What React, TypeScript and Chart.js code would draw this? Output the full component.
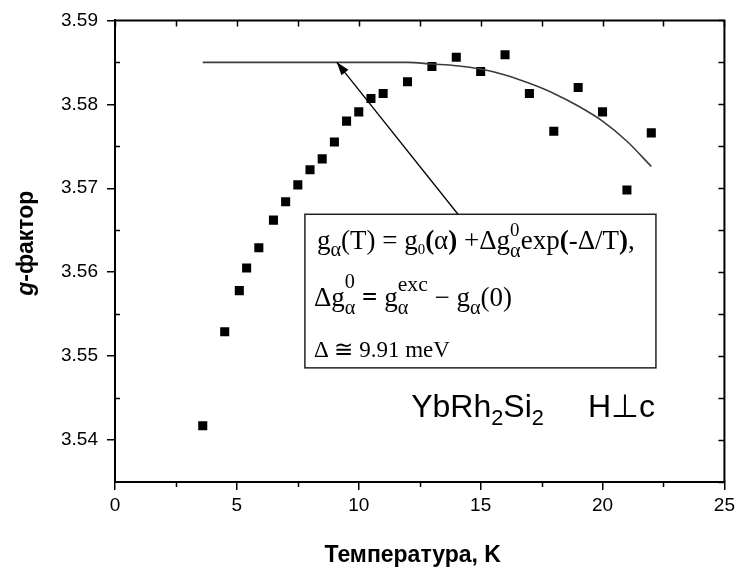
import React, { useEffect, useRef } from "react";
import { Chart, registerables } from "chart.js";

Chart.register(...registerables);

// Measured data: temperature (K) and g-factor
const temperature = [3.6, 4.5, 5.1, 5.4, 5.9, 6.5, 7.0, 7.5, 8.0, 8.5, 9.0, 9.5, 10.0, 10.5, 11.0, 12.0, 13.0, 14.0, 15.0, 16.0, 17.0, 18.0, 19.0, 20.0, 21.0, 22.0];
const gFactor = [3.5417, 3.5529, 3.5578, 3.5605, 3.5629, 3.5662, 3.5684, 3.5704, 3.5722, 3.5735, 3.5755, 3.5780, 3.5791, 3.5807, 3.5813, 3.5827, 3.5845, 3.5856, 3.5839, 3.5859, 3.5813, 3.5768, 3.5820, 3.5791, 3.5698, 3.5766];

// Fit curve
const fitT = [3.6, 8, 10, 12, 13, 14, 15, 16, 17, 18, 19, 20, 21, 22];
const fitG = [3.585, 3.585, 3.585, 3.585, 3.5848, 3.5846, 3.5842, 3.5835, 3.5825, 3.5813, 3.5798, 3.578, 3.5756, 3.5726];

// Axis settings
const xTicks = [0, 5, 10, 15, 20, 25];
const yTicks = [3.54, 3.55, 3.56, 3.57, 3.58, 3.59];
const xTitle = "Температура, K";
const yTitleItalic = "g";
const yTitleRest = "-фактор";

const SANS = '"Liberation Sans", Arial, sans-serif';
const SERIF = '"Liberation Serif", "Times New Roman", serif';

type Seg = { t: string; dy?: number; s?: number; b?: boolean; i?: boolean; stack?: boolean };

function drawRich(ctx: CanvasRenderingContext2D, x: number, y: number, segs: Seg[], size: number, family: string, measureOnly = false) {
  let cx = x;
  let stackW = 0;
  for (const sg of segs) {
    const fs = size * (sg.s ?? 1);
    ctx.font = `${sg.i ? "italic " : ""}${sg.b ? "bold " : ""}${fs}px ${family}`;
    if (!measureOnly) ctx.fillText(sg.t, cx, y + (sg.dy ?? 0));
    const w = ctx.measureText(sg.t).width;
    if (sg.stack) {
      stackW = Math.max(stackW, w);
    } else {
      cx += Math.max(w, stackW);
      stackW = 0;
    }
  }
  return cx;
}

const framePlugin = {
  id: "frame",
  afterDraw(chart: any) {
    const { ctx, chartArea: a, scales } = chart;
    const xs = scales.x;
    const ys = scales.y;
    ctx.save();
    ctx.strokeStyle = "#000";
    ctx.lineWidth = 2;
    ctx.beginPath();
    ctx.moveTo(a.left, a.top);
    ctx.lineTo(a.right, a.top);
    ctx.lineTo(a.right, a.bottom);
    ctx.stroke();
    ctx.lineWidth = 1.5;
    ctx.beginPath();
    for (let v = 0; v <= 25.001; v += 2.5) {
      const px = Math.round(xs.getPixelForValue(v)) + 0.5;
      const major = Math.abs(v % 5) < 1e-6;
      if (!major) {
        ctx.moveTo(px, a.bottom);
        ctx.lineTo(px, a.bottom + 5);
      }
      ctx.moveTo(px, a.top);
      ctx.lineTo(px, a.top + 6);
    }
    for (let i = 0; i <= 11; i++) {
      const v = 3.535 + i * 0.005;
      const py = Math.round(ys.getPixelForValue(v)) + 0.5;
      const major = i % 2 === 1;
      if (!major && i > 0) {
        ctx.moveTo(a.left, py);
        ctx.lineTo(a.left + 5, py);
      }
      ctx.moveTo(a.right, py);
      ctx.lineTo(a.right - 6, py);
    }
    ctx.stroke();

    // axis titles
    ctx.fillStyle = "#000";
    ctx.textBaseline = "middle";
    ctx.textAlign = "center";
    ctx.font = `bold 23px ${SANS}`;
    ctx.fillText(xTitle, (a.left + a.right) / 2 - 7, 556);
    ctx.save();
    ctx.translate(27, (a.top + a.bottom) / 2 - 8);
    ctx.rotate(-Math.PI / 2);
    ctx.textAlign = "left";
    const segs: Seg[] = [{ t: yTitleItalic, b: true, i: true }, { t: yTitleRest, b: true }];
    const w = drawRich(ctx, 0, 0, segs, 23, SANS, true);
    drawRich(ctx, -w / 2, 0, segs, 23, SANS);
    ctx.restore();
    ctx.restore();
  },
};

const annotationPlugin = {
  id: "annot",
  afterDatasetsDraw(chart: any) {
    const { ctx, scales } = chart;
    const xs = scales.x;
    const ys = scales.y;
    const X = (v: number) => xs.getPixelForValue(v);
    const Y = (v: number) => ys.getPixelForValue(v);
    ctx.save();
    const bl = X(7.79), br = X(22.19), bt = Y(3.5669), bb = Y(3.5486);
    ctx.strokeStyle = "#222";
    ctx.lineWidth = 1.5;
    ctx.strokeRect(bl, bt, br - bl, bb - bt);
    const tx = X(9.1), ty = Y(3.585);
    const sx = X(14.07), sy = bt;
    ctx.strokeStyle = "#000";
    ctx.lineWidth = 1.3;
    ctx.beginPath();
    ctx.moveTo(sx, sy);
    ctx.lineTo(tx, ty);
    ctx.stroke();
    const ang = Math.atan2(ty - sy, tx - sx);
    const L = 13, W = 4.5;
    ctx.fillStyle = "#000";
    ctx.beginPath();
    ctx.moveTo(tx, ty);
    ctx.lineTo(tx - L * Math.cos(ang) + W * Math.sin(ang), ty - L * Math.sin(ang) - W * Math.cos(ang));
    ctx.lineTo(tx - L * Math.cos(ang) - W * Math.sin(ang), ty - L * Math.sin(ang) + W * Math.cos(ang));
    ctx.closePath();
    ctx.fill();

    ctx.fillStyle = "#000";
    ctx.textBaseline = "alphabetic";
    ctx.textAlign = "left";
    const fs = 27;
    const lx = bl + 12;
    drawRich(ctx, lx, bt + 35, [
      { t: "g" }, { t: "α", s: 0.75, dy: 7 }, { t: "(T) = g" }, { t: "0", s: 0.55, dy: 5 },
      { t: "(", b: true }, { t: "α" }, { t: ")", b: true }, { t: " +Δg" },
      { t: "α", s: 0.75, dy: 8, stack: true }, { t: "0", s: 0.7, dy: -13 },
      { t: "exp" }, { t: "(", b: true }, { t: "-Δ/T" }, { t: ")", b: true }, { t: "," },
    ], fs, SERIF);
    drawRich(ctx, lx - 3, bt + 92, [
      { t: "Δg" }, { t: "α", s: 0.75, dy: 8, stack: true }, { t: "0", s: 0.75, dy: -18 },
      { t: " = ", b: true }, { t: "g" }, { t: "α", s: 0.75, dy: 8, stack: true }, { t: "exc", s: 0.8, dy: -15 },
      { t: " − g" }, { t: "α", s: 0.75, dy: 8 }, { t: "(0)" },
    ], fs, SERIF);
    drawRich(ctx, lx - 3, bt + 143, [{ t: "Δ ≅ 9.91 meV" }], 23, SERIF);

    const cx = X(12.15), cy = Y(3.5427);
    const end = drawRich(ctx, cx, cy, [
      { t: "YbRh" }, { t: "2", s: 0.68, dy: 8 }, { t: "Si" }, { t: "2", s: 0.68, dy: 8 },
    ], 32, SANS);
    drawRich(ctx, end + 44, cy, [{ t: "H⊥c" }], 32, SANS);
    ctx.restore();
  },
};

export default function App() {
  const ref = useRef<HTMLCanvasElement | null>(null);
  useEffect(() => {
    document.body.style.margin = "0";
    const canvas = ref.current!;
    const chart = new Chart(canvas, {
      type: "scatter",
      data: {
        datasets: [
          {
            label: "fit",
            data: fitT.map((t, i) => ({ x: t, y: fitG[i] })),
            showLine: true,
            borderColor: "#3c3c3c",
            borderWidth: 1.6,
            pointRadius: 0,
            cubicInterpolationMode: "monotone",
          } as any,
          {
            label: "g",
            data: temperature.map((t, i) => ({ x: t, y: gFactor[i] })),
            showLine: false,
            pointStyle: "rect",
            pointRadius: 6.4,
            pointBorderWidth: 0,
            backgroundColor: "#000",
            borderColor: "#000",
          } as any,
        ],
      },
      options: {
        responsive: false,
        animation: false,
        layout: { padding: { left: 0, right: 11, top: 14, bottom: 0 } },
        plugins: { legend: { display: false }, tooltip: { enabled: false } },
        scales: {
          x: {
            type: "linear",
            min: 0,
            max: 25,
            afterBuildTicks: (s: any) => { s.ticks = xTicks.map((v) => ({ value: v })); },
            afterFit: (s: any) => { s.height = 93; },
            ticks: { color: "#000", font: { family: SANS, size: 19 }, padding: 4, callback: (v: any) => String(v) },
            grid: { drawOnChartArea: false, drawTicks: true, tickLength: 8, color: "#000", lineWidth: 1.5 },
            border: { display: true, color: "#000", width: 2 },
            title: { display: false },
          },
          y: {
            type: "linear",
            min: 3.535,
            max: 3.59,
            afterBuildTicks: (s: any) => { s.ticks = yTicks.map((v) => ({ value: v })); },
            afterFit: (s: any) => { s.width = 115; },
            ticks: { color: "#000", font: { family: SANS, size: 19 }, padding: 9, callback: (v: any) => Number(v).toFixed(2) },
            grid: { drawOnChartArea: false, drawTicks: true, tickLength: 8, color: "#000", lineWidth: 1.5 },
            border: { display: true, color: "#000", width: 2 },
            title: { display: false },
          },
        },
      },
      plugins: [framePlugin, annotationPlugin],
    });
    return () => chart.destroy();
  }, []);
  return (
    <div style={{ position: "absolute", left: 0, top: 0, width: 739, height: 575, background: "#fff" }}>
      <canvas ref={ref} width={739} height={575} />
    </div>
  );
}
